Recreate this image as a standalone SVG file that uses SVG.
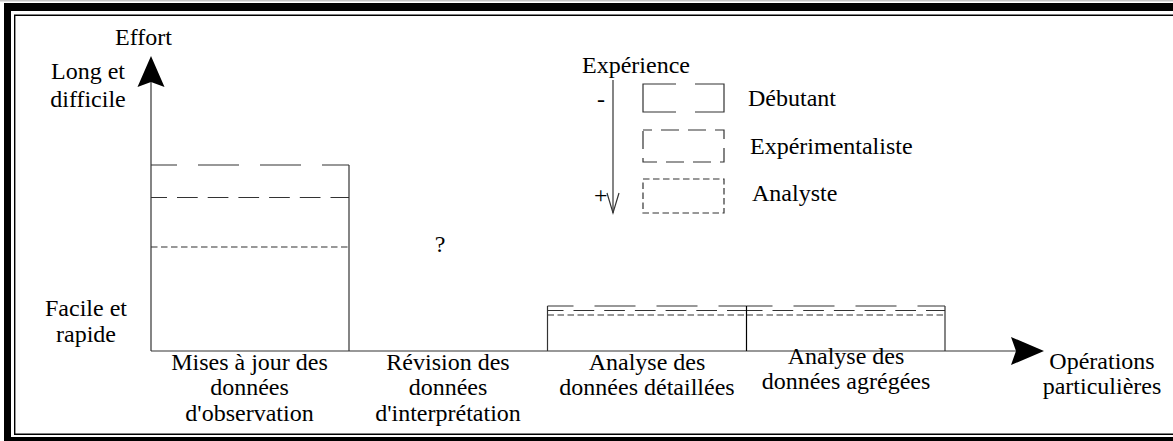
<svg xmlns="http://www.w3.org/2000/svg" width="1173" height="441" viewBox="0 0 1173 441">
  <style>
    text { font-family: "Liberation Serif", "Times New Roman", serif; font-size: 24px; fill: #000; }
    .mid { text-anchor: middle; }
    .ln { fill: none; stroke: #333; stroke-width: 1.2; }
    .solid { fill: none; stroke: #000; stroke-width: 1.2; }
    .deb { fill: none; stroke: #333; stroke-width: 1.2; stroke-dasharray: 41 21; stroke-dashoffset: 15; }
    .exp { fill: none; stroke: #333; stroke-width: 1.2; stroke-dasharray: 20.7 10; stroke-dashoffset: 4.7; }
    .ana { fill: none; stroke: #333; stroke-width: 1.2; stroke-dasharray: 6.5 3.5; }
    .head { fill: #000; stroke: none; }
  </style>

  <!-- page frame: thick outer band and thin inner rule -->
  <g id="frame">
    <rect x="0" y="0" width="1173" height="1.5" fill="#c4c4c4"/>
    <path d="M4,3 H1173 V441 H4 Z M11,11 H1173 V437 H11 Z" fill="#000" fill-rule="evenodd"/>
    <path d="M1173,15.3 H14.7 V434.3 H1173" fill="none" stroke="#000" stroke-width="1.4"/>
  </g>

  <!-- axes -->
  <g id="connectors">
    <line class="ln" x1="151" y1="82" x2="151" y2="351"/>
    <polygon class="head" points="151,56 164.5,87 151,82 137.5,87"/>
    <line class="ln" x1="151" y1="351" x2="1016" y2="351"/>
    <polygon class="head" points="1044,351 1011,337 1016,351 1011,365"/>
  </g>

  <g id="axis-labels">
    <text x="115" y="45">Effort</text>
    <text class="mid" x="88" y="79">Long et</text>
    <text class="mid" x="88" y="107">difficile</text>
    <text class="mid" x="86" y="316">Facile et</text>
    <text class="mid" x="86" y="342">rapide</text>
    <text class="mid" x="1102" y="369">Opérations</text>
    <text class="mid" x="1102" y="394">particulières</text>
  </g>

  <!-- column 1: updates of observation data -->
  <g id="col-observation">
    <line class="deb" x1="151" y1="165" x2="349" y2="165"/>
    <line class="exp" x1="151" y1="197.5" x2="349" y2="197.5"/>
    <line class="ana" x1="151" y1="247" x2="349" y2="247"/>
    <line class="ln" x1="349" y1="165" x2="349" y2="351"/>
    <text class="mid" x="249.5" y="370">Mises à jour des</text>
    <text class="mid" x="249.5" y="395">données</text>
    <text class="mid" x="249.5" y="421">d'observation</text>
  </g>

  <!-- column 2: revision of interpretation data -->
  <g id="col-interpretation">
    <text class="mid" x="440" y="252">?</text>
    <text class="mid" x="448" y="370">Révision des</text>
    <text class="mid" x="448" y="395">données</text>
    <text class="mid" x="448" y="421">d'interprétation</text>
  </g>

  <!-- column 3: analysis of detailed data -->
  <g id="col-detailed">
    <line class="deb" x1="547.5" y1="306" x2="746.5" y2="306"/>
    <line class="exp" x1="547.5" y1="310.5" x2="746.5" y2="310.5"/>
    <line class="ana" x1="547.5" y1="315" x2="746.5" y2="315"/>
    <line class="ln" x1="547.5" y1="306" x2="547.5" y2="351"/>
    <text class="mid" x="647" y="370">Analyse des</text>
    <text class="mid" x="647" y="395">données détaillées</text>
  </g>

  <!-- column 4: analysis of aggregated data -->
  <g id="col-aggregated">
    <line class="deb" x1="746.5" y1="306" x2="945" y2="306"/>
    <line class="exp" x1="746.5" y1="310.5" x2="945" y2="310.5"/>
    <line class="ana" x1="746.5" y1="315" x2="945" y2="315"/>
    <line class="solid" x1="746.5" y1="306" x2="746.5" y2="351"/>
    <line class="ln" x1="945" y1="306" x2="945" y2="351"/>
    <text class="mid" x="846" y="364">Analyse des</text>
    <text class="mid" x="846" y="389">données agrégées</text>
  </g>

  <!-- legend: experience levels -->
  <g id="legend">
    <text x="582" y="73">Expérience</text>
    <line class="ln" x1="613" y1="80" x2="613" y2="213"/>
    <path class="ln" d="M607,193 L613,213 L619,193"/>
    <text x="597" y="107">-</text>
    <text x="594" y="203">+</text>

    <g id="legend-debutant">
      <path class="ln" d="M676,84 H643 V112 H676 M695,84 H724 V112 H695"/>
      <text x="748" y="106">Débutant</text>
    </g>
    <g id="legend-experimentaliste">
      <rect class="ln" x="643" y="130" width="81" height="32" style="stroke-dasharray:18 9;stroke-dashoffset:9"/>
      <text x="750" y="154">Expérimentaliste</text>
    </g>
    <g id="legend-analyste">
      <rect class="ana" x="643" y="179" width="81" height="34"/>
      <text x="752" y="201">Analyste</text>
    </g>
  </g>
</svg>
